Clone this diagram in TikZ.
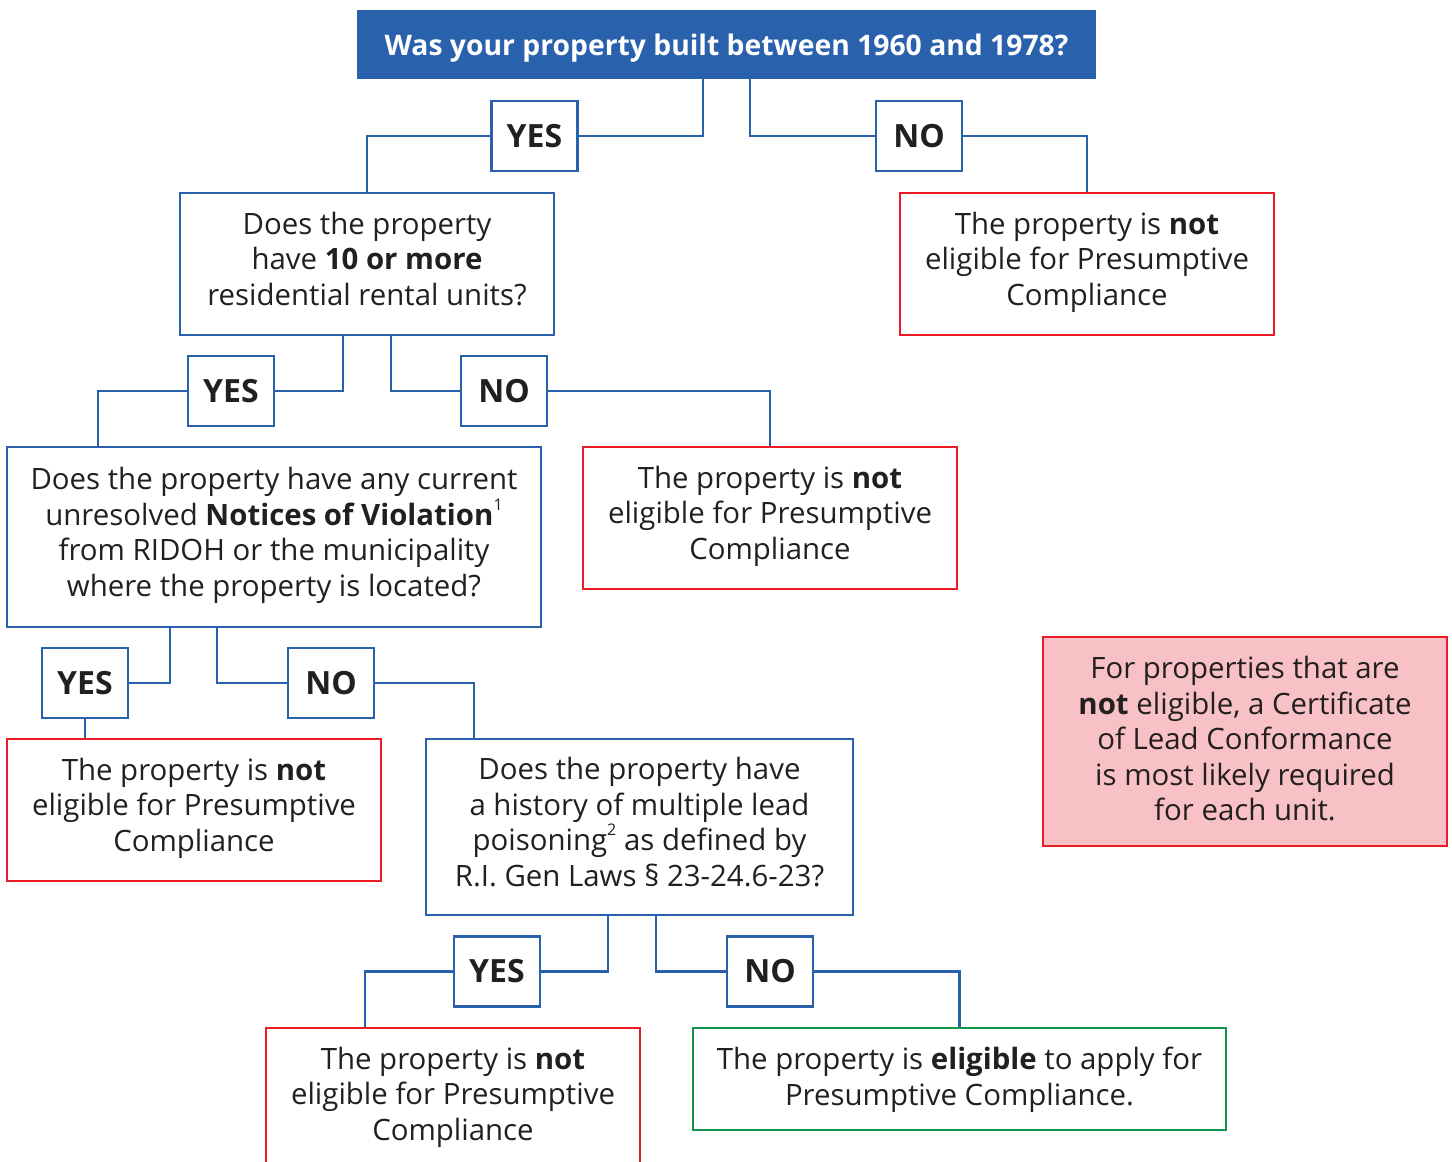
\documentclass[tikz,border=0pt]{standalone}
\usepackage{fontspec}
\setmainfont{Open Sans}
\usetikzlibrary{calc}
\definecolor{bl}{HTML}{2A61AD}
\definecolor{rd}{HTML}{EC1C24}
\definecolor{gr}{HTML}{14964A}
\definecolor{pk}{HTML}{F8C1C5}
\definecolor{tx}{HTML}{231F20}
\newcommand{\supn}[1]{\raisebox{0.5em}{\fontsize{16}{16}\selectfont #1}}
\newcommand{\up}{\\[-25pt]}
\newcommand{\upb}{\\[-30pt]}
\begin{document}
\begin{tikzpicture}[x=1pt,y=-1pt,
  base/.style={inner sep=0pt, align=center, text=tx, font=\fontsize{29.4}{35.5}\selectfont},
  qbox/.style={base, draw=bl, line width=2.5pt},
  rbox/.style={base, draw=rd, line width=2.5pt},
  gbox/.style={base, draw=gr, line width=2.5pt},
  ans/.style={base, draw=bl, line width=2.5pt, minimum width=86, minimum height=70, font=\fontsize{32}{34}\selectfont\bfseries},
  conn/.style={draw=bl, line width=2.5pt}]
\useasboundingbox (0,0) rectangle (1452,1162);
\clip (0,0) rectangle (1452,1162);
% title
\node[base, fill=bl, text=white, text depth=0pt, minimum width=739, minimum height=69, font=\fontsize{28.3}{30}\selectfont\bfseries] (title) at (726.5,44.5) {Was your property built between 1960 and 1978?};
% level 1
\node[ans] (yes1) at (534.5,136) {YES};
\node[ans] (no1) at (919,136) {NO};
\node[qbox, minimum width=374, minimum height=142] (q2) at (367,264) {Does the property\\have \textbf{10 or more}\\residential rental units?\up};
\node[rbox, minimum width=374, minimum height=142] (r1) at (1087,264) {The property is \textbf{not}\\eligible for Presumptive\\Compliance\up};
% level 2
\node[ans] (yes2) at (231,391) {YES};
\node[ans] (no2) at (504,391) {NO};
\node[qbox, minimum width=534, minimum height=180] (q3) at (274,537) {Does the property have any current\\unresolved \textbf{Notices of Violation}\supn{1}\\from RIDOH or the municipality\\where the property is located?\up};
\node[rbox, minimum width=374, minimum height=142] (r2) at (770,518) {The property is \textbf{not}\\eligible for Presumptive\\Compliance\up};
% level 3
\node[ans] (yes3) at (85,683) {YES};
\node[ans] (no3) at (331,683) {NO};
\node[rbox, minimum width=374, minimum height=142] (r3) at (194,810) {The property is \textbf{not}\\eligible for Presumptive\\Compliance\up};
\node[qbox, minimum width=427, minimum height=176] (q4) at (639.5,827) {Does the property have\\a history of multiple lead\\poisoning\supn{2} as defined by\\R.I. Gen Laws \S\ 23-24.6-23?\up};
% note
\node[rbox, fill=pk, minimum width=404, minimum height=209] (note) at (1245,741.5) {For properties that are\\\textbf{not} eligible, a Certificate\\of Lead Conformance\\is most likely required\\for each unit.\upb};
% level 4
\node[ans] (yes4) at (497,971.5) {YES};
\node[ans] (no4) at (770,971.5) {NO};
\node[rbox, minimum width=374, minimum height=142] (r4) at (453,1099) {The property is \textbf{not}\\eligible for Presumptive\\Compliance\up};
\node[gbox, minimum width=533, minimum height=102] (g) at (959.5,1079) {The property is \textbf{eligible} to apply for\\Presumptive Compliance.\upb};
% connectors
\draw[conn] ($(title.south)+(-23.5,0)$) |- (yes1.east);
\draw[conn] (yes1.west) -| (q2.north);
\draw[conn] ($(title.south)+(23.5,0)$) |- (no1.west);
\draw[conn] (no1.east) -| (r1.north);
\draw[conn] ($(q2.south)+(-24,0)$) |- (yes2.east);
\draw[conn] (yes2.west) -| ($(q3.north west)+(92,0)$);
\draw[conn] ($(q2.south)+(24,0)$) |- (no2.west);
\draw[conn] (no2.east) -| (r2.north);
\draw[conn] ($(q3.south west)+(164,0)$) |- (yes3.east);
\draw[conn] (yes3.south) -- (yes3.south |- r3.north);
\draw[conn] ($(q3.south west)+(211,0)$) |- (no3.west);
\draw[conn] (no3.east) -| ($(q4.north west)+(49,0)$);
\draw[conn] ($(q4.south west)+(183,0)$) |- (yes4.east);
\draw[conn] (yes4.west) -| ($(r4.north west)+(100,0)$);
\draw[conn] ($(q4.south west)+(231,0)$) |- (no4.west);
\draw[conn] (no4.east) -| (g.north);
\end{tikzpicture}
\end{document}
